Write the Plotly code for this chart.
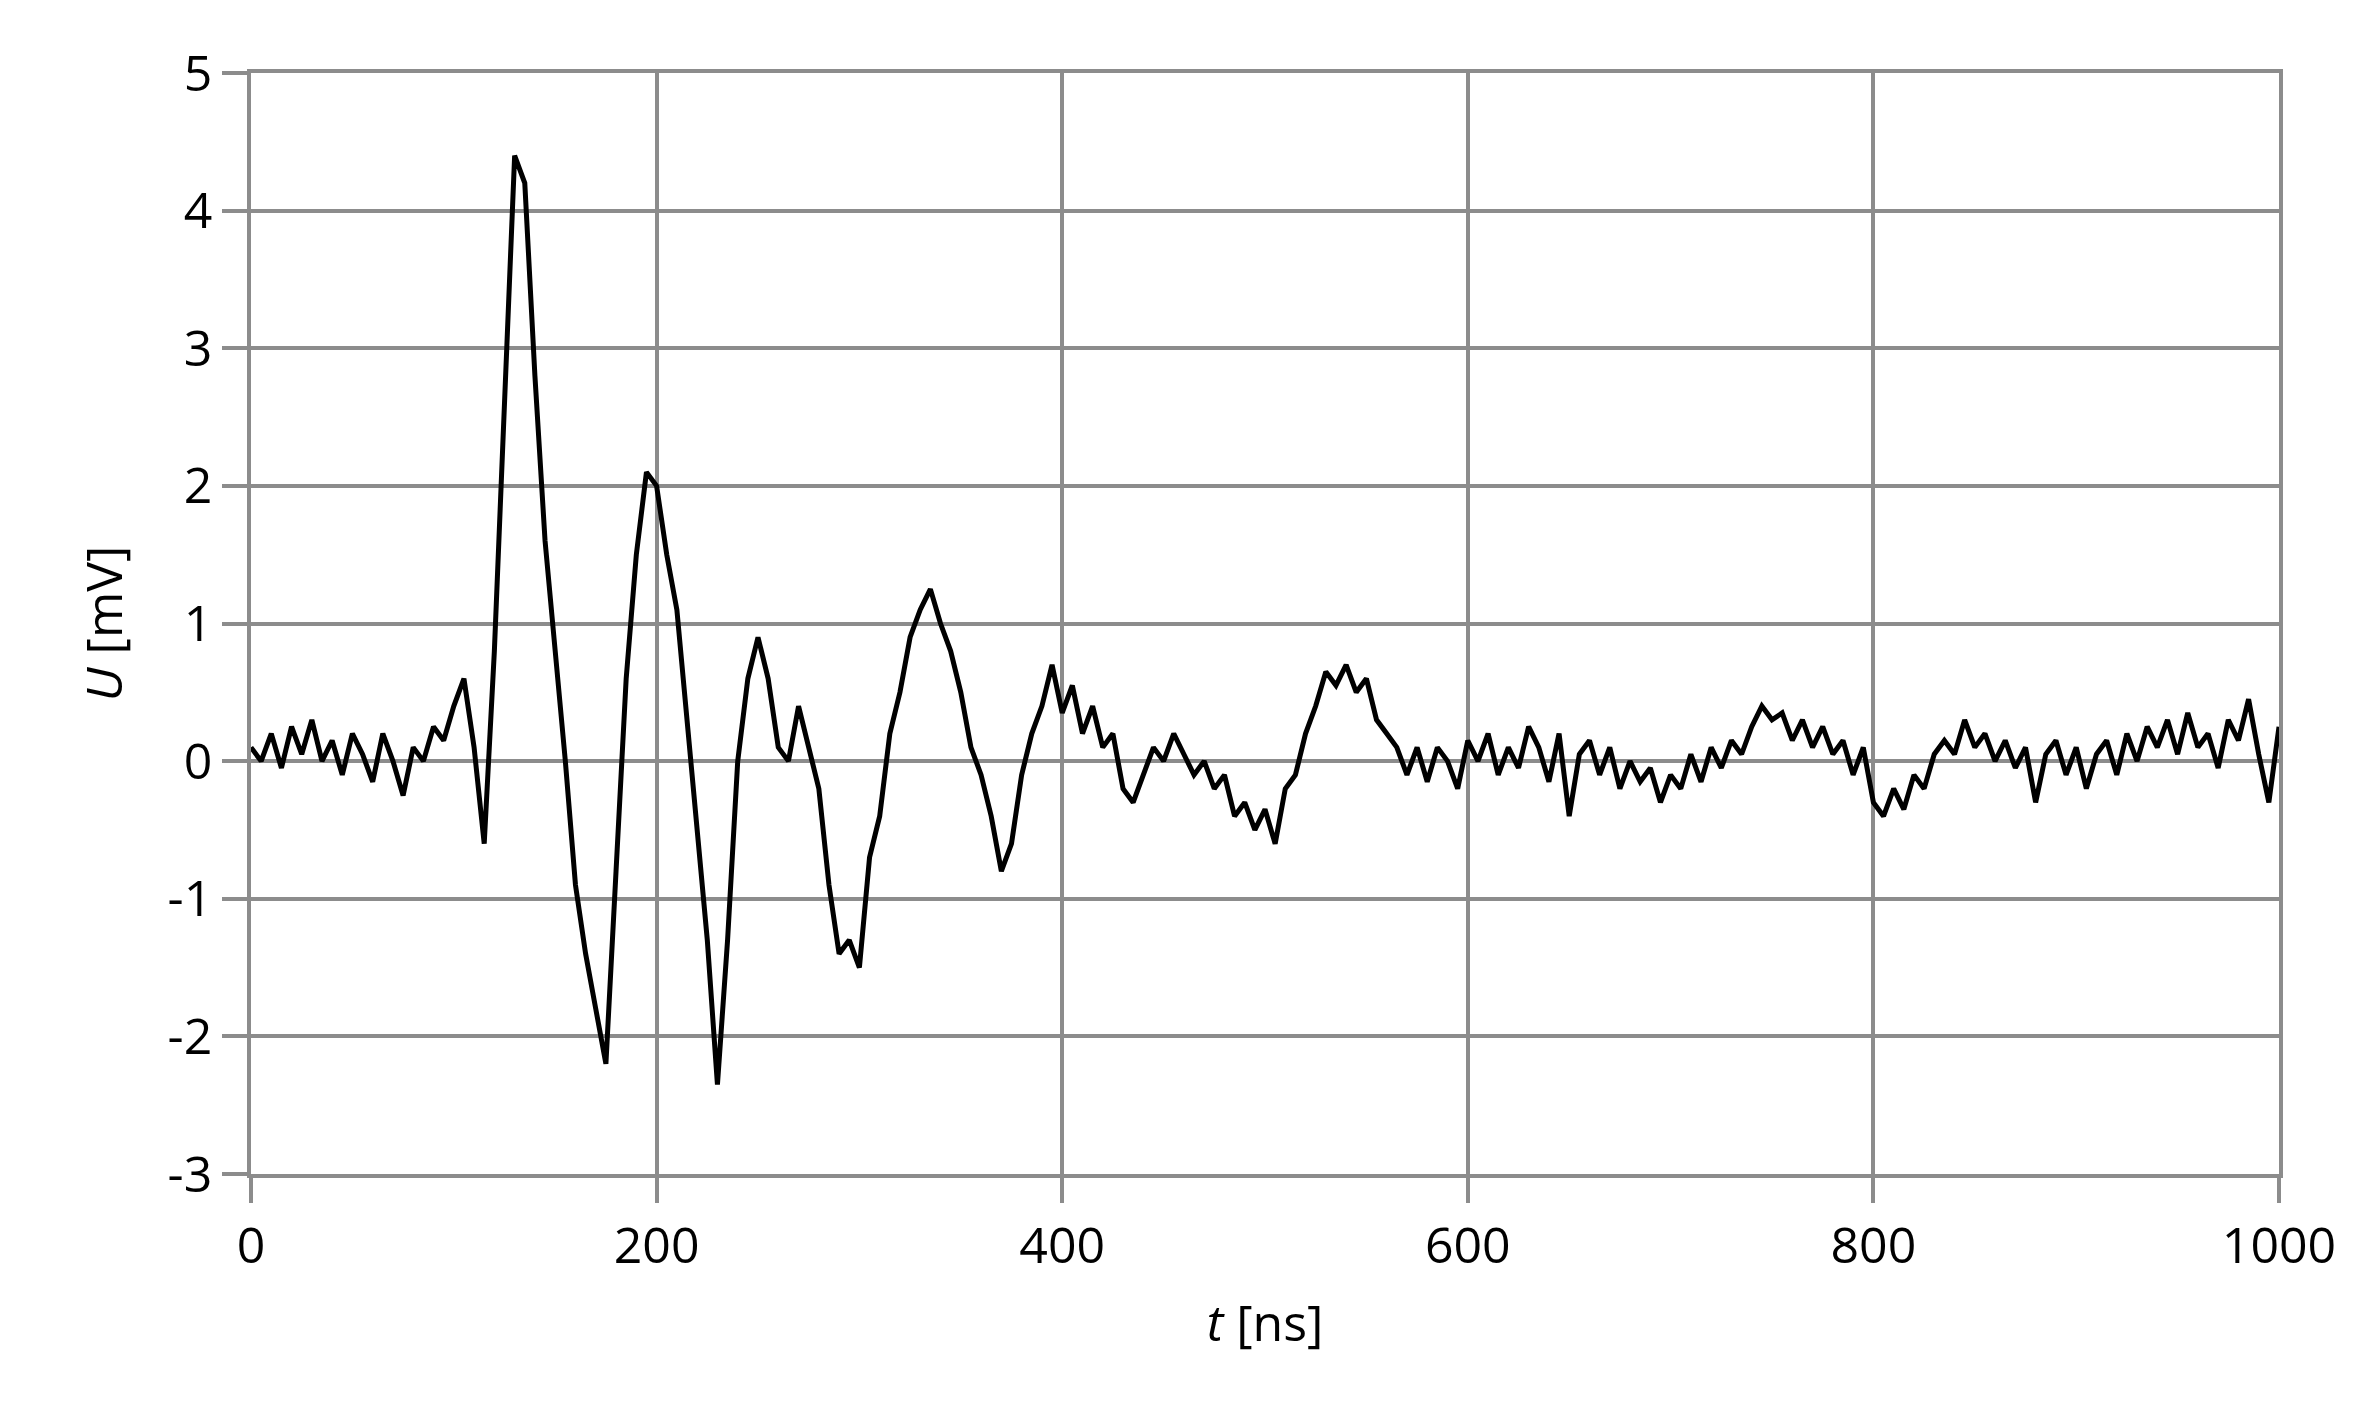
import numpy as np
import plotly.graph_objects as go

# signal, one value every 5 ns
u = [0.1, 0.0, 0.2, -0.05, 0.25, 0.05, 0.3, 0.0, 0.15, -0.1,
     0.2, 0.05, -0.15, 0.2, 0.0, -0.25, 0.1, 0.0, 0.25, 0.15,
     0.4, 0.6, 0.1, -0.6, 0.8, 2.6, 4.4, 4.2, 2.8, 1.6,
     0.8, 0.0, -0.9, -1.4, -1.8, -2.2, -0.8, 0.6, 1.5, 2.1,
     2.0, 1.5, 1.1, 0.3, -0.5, -1.3, -2.35, -1.3, 0.0, 0.6,
     0.9, 0.6, 0.1, 0.0, 0.4, 0.1, -0.2, -0.9, -1.4, -1.3,
     -1.5, -0.7, -0.4, 0.2, 0.5, 0.9, 1.1, 1.25, 1.0, 0.8,
     0.5, 0.1, -0.1, -0.4, -0.8, -0.6, -0.1, 0.2, 0.4, 0.7,
     0.35, 0.55, 0.2, 0.4, 0.1, 0.2, -0.2, -0.3, -0.1, 0.1,
     0.0, 0.2, 0.05, -0.1, 0.0, -0.2, -0.1, -0.4, -0.3, -0.5,
     -0.35, -0.6, -0.2, -0.1, 0.2, 0.4, 0.65, 0.55, 0.7, 0.5,
     0.6, 0.3, 0.2, 0.1, -0.1, 0.1, -0.15, 0.1, 0.0, -0.2,
     0.15, 0.0, 0.2, -0.1, 0.1, -0.05, 0.25, 0.1, -0.15, 0.2,
     -0.4, 0.05, 0.15, -0.1, 0.1, -0.2, 0.0, -0.15, -0.05, -0.3,
     -0.1, -0.2, 0.05, -0.15, 0.1, -0.05, 0.15, 0.05, 0.25, 0.4,
     0.3, 0.35, 0.15, 0.3, 0.1, 0.25, 0.05, 0.15, -0.1, 0.1,
     -0.3, -0.4, -0.2, -0.35, -0.1, -0.2, 0.05, 0.15, 0.05, 0.3,
     0.1, 0.2, 0.0, 0.15, -0.05, 0.1, -0.3, 0.05, 0.15, -0.1,
     0.1, -0.2, 0.05, 0.15, -0.1, 0.2, 0.0, 0.25, 0.1, 0.3,
     0.05, 0.35, 0.1, 0.2, -0.05, 0.3, 0.15, 0.45, 0.05, -0.3,
     0.25]
t = 5 * np.arange(len(u))

y_ticks = [-3, -2, -1, 0, 1, 2, 3, 4, 5]
x_ticks = [0, 200, 400, 600, 800, 1000]

fig = go.Figure()
fig.add_trace(go.Scatter(x=t, y=u, mode="lines",
                         line=dict(color="black", width=5)))

axis_style = dict(showgrid=True, gridcolor="#8c8c8c", gridwidth=3.5,
                  showline=True, linecolor="#8c8c8c", linewidth=3.5,
                  ticks="outside", ticklen=25, tickwidth=3.5, tickcolor="#8c8c8c",
                  zeroline=False, tickfont=dict(size=50, color="black"),
                  mirror=True)

fig.update_xaxes(range=[0, 1000], tickvals=x_ticks,
                 title=dict(text="<i>t</i> [ns]", font=dict(size=50, color="black"), standoff=30),
                 **axis_style)
fig.update_yaxes(range=[-3, 5], tickvals=y_ticks, ticktext=[str(v) for v in y_ticks],
                 title=dict(text="<i>U</i> [mV]", font=dict(size=50, color="black"), standoff=30),
                 **axis_style)

fig.update_layout(width=2374, height=1424, showlegend=False,
                  plot_bgcolor="white", paper_bgcolor="white",
                  font=dict(family="Open Sans"),
                  margin=dict(l=243, r=103, t=65, b=258))

fig.write_html("out.html")
